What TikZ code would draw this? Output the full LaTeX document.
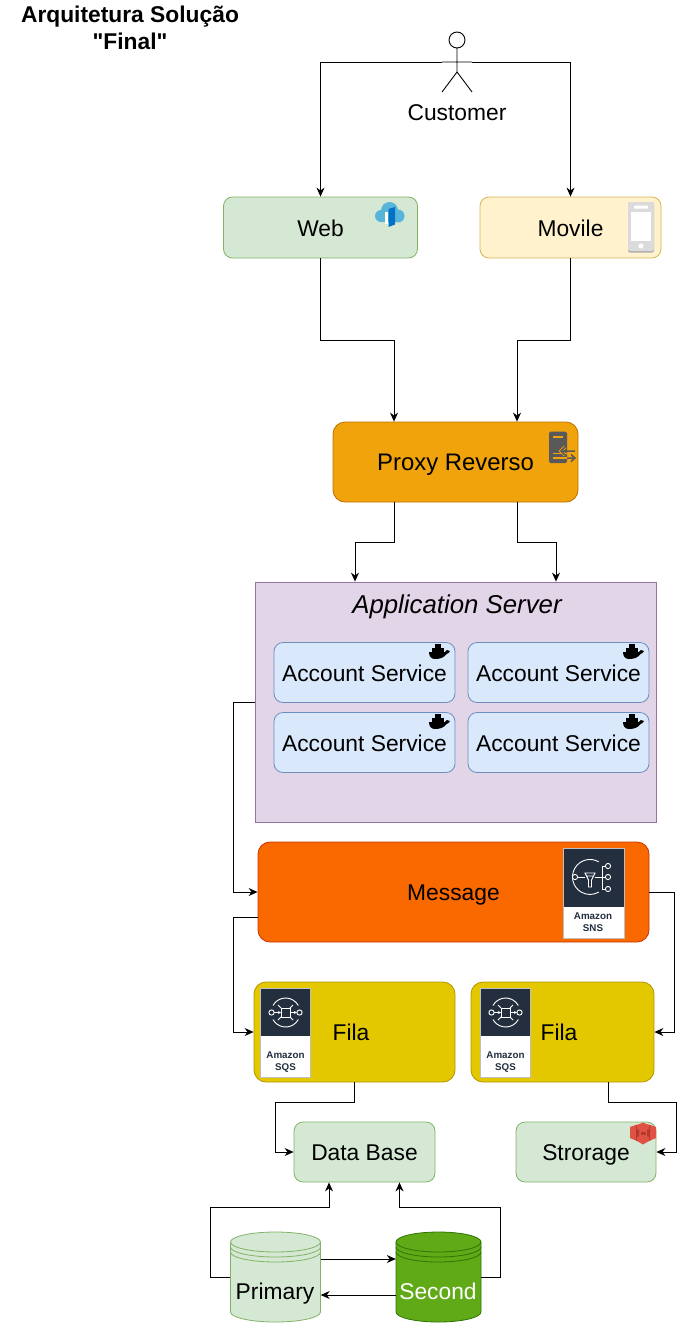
\documentclass[tikz,border=0pt]{standalone}
\usepackage{fontspec}
\setmainfont{Liberation Sans}
\newfontfamily\titlefont{Liberation Sans}
\usetikzlibrary{arrows.meta}
\definecolor{greenfill}{HTML}{D5E8D4}\definecolor{greenline}{HTML}{82B366}
\definecolor{yellowfill}{HTML}{FFF2CC}\definecolor{yellowline}{HTML}{D6B656}
\definecolor{proxyfill}{HTML}{F0A30A}\definecolor{proxyline}{HTML}{BD7000}
\definecolor{appfill}{HTML}{E1D5E7}\definecolor{appline}{HTML}{9673A6}
\definecolor{svcfill}{HTML}{DAE8FC}\definecolor{svcline}{HTML}{6C8EBF}
\definecolor{msgfill}{HTML}{FA6800}\definecolor{msgline}{HTML}{C73500}
\definecolor{filafill}{HTML}{E3C800}\definecolor{filaline}{HTML}{B09500}
\definecolor{secfill}{HTML}{60A917}\definecolor{secline}{HTML}{2D7600}
\definecolor{awsdark}{HTML}{232F3E}
\definecolor{cloudblue}{HTML}{59B4D9}\definecolor{doorblue}{HTML}{0072C6}
\definecolor{serverdark}{HTML}{595959}
\definecolor{sthreered}{HTML}{E05243}\definecolor{sthreedark}{HTML}{B5392C}
\tikzset{
  box/.style={draw,rounded corners=9pt,line width=.8pt,inner sep=0pt,text height=21.5pt,text depth=4.5pt,font=\fontsize{22.8}{27}\selectfont},
  bigbox/.style={box,rounded corners=12pt},
  lbl/.style={inner sep=0pt,text height=21.5pt,text depth=4.5pt,font=\fontsize{22.8}{27}\selectfont},
  conn/.style={draw,line width=.9pt,-{Stealth[length=9pt,width=8pt]}},
  awstext/.style={inner sep=0pt,align=center,text=awsdark,font=\fontsize{9.8}{12}\selectfont\bfseries}
}
% whale icon, (#1,#2) is its upper left corner
\newcommand{\dockericon}[2]{
\begin{scope}[shift={(#1,#2)}]
\fill (0,8) -- (16,8) .. controls (16.5,5.5) and (18.5,5.5) .. (21,7) .. controls (20,9) and (19,9.5) .. (17.5,10) .. controls (15,14) and (10,15) .. (6,15) .. controls (2,15) and (0,12) .. (0,8) -- cycle;
\foreach \i/\j in {3/4.2,6/4.2,9/4.2,12/4.2,6/.2,9/.2}
  \fill (\i,\j) rectangle ++(2.7,3.6);
\end{scope}}
% amazon icon, dark top and white caption part
\newcommand{\awsbox}[5]{
\fill[black!25] (#1-1,#2-1) rectangle (#3+1,#4+1);
\fill[white] (#1,#2) rectangle (#3,#4);
\fill[awsdark] (#1,#2) rectangle (#3,#5);}
% data store cylinder, top at 1232
\newcommand{\datastore}[4]{
\begin{scope}[shift={(#1,1232)},line width=.8pt]
\draw[fill=#3,draw=#4] (-#2,10) arc[x radius=#2,y radius=10,start angle=180,end angle=360] -- (#2,80) arc[x radius=#2,y radius=10,start angle=0,end angle=180] -- cycle;
\foreach \k in {10,15,20}
  \draw[draw=#4] (-#2,\k) arc[x radius=#2,y radius=10,start angle=180,end angle=0];
\end{scope}}
\begin{document}
\begin{tikzpicture}[x=1pt,y=-1pt]
\useasboundingbox (0,0) rectangle (685,1323);

\node[inner sep=0pt,align=center,font=\fontsize{22.8}{27}\titlefont\bfseries] (title) at (130,28) {Arquitetura Solução\\"Final"};

% customer
\draw[line width=.9pt] (457,40) circle(8pt) (457,48) -- (457,72) -- (442,92) (457,72) -- (472,92) (442,62) -- (472,62);
\coordinate (armleft) at (442,62);
\coordinate (armright) at (472,62);
\node[lbl] (customer) at (457,112) {Customer};

\node[box,fill=greenfill,draw=greenline,minimum width=194pt,minimum height=61pt] (web) at (320.5,227.5) {Web};
\node[box,fill=yellowfill,draw=yellowline,minimum width=181pt,minimum height=61pt] (movile) at (570.5,227.5) {Movile};
\node[bigbox,fill=proxyfill,draw=proxyline,minimum width=245pt,minimum height=80pt,font=\fontsize{23.9}{27}\selectfont] (proxy) at (455.5,462) {Proxy Reverso};

\node[draw=appline,fill=appfill,line width=.8pt,minimum width=401pt,minimum height=240pt] (app) at (455.5,702) {};
\node[lbl,font=\fontsize{25.8}{30}\selectfont\itshape] (apptitle) at (457,604.5) {Application Server};
\node[box,fill=svcfill,draw=svcline,minimum width=181pt,minimum height=60pt] (acc1) at (364.5,672.5) {Account Service};
\node[box,fill=svcfill,draw=svcline,minimum width=181pt,minimum height=60pt] (acc2) at (558.5,672.5) {Account Service};
\node[box,fill=svcfill,draw=svcline,minimum width=181pt,minimum height=60pt] (acc3) at (364.5,742.5) {Account Service};
\node[box,fill=svcfill,draw=svcline,minimum width=181pt,minimum height=60pt] (acc4) at (558.5,742.5) {Account Service};

\node[bigbox,fill=msgfill,draw=msgline,minimum width=391pt,minimum height=100pt] (message) at (453.5,892) {Message};
\node[bigbox,fill=filafill,draw=filaline,minimum width=201pt,minimum height=100pt] (fila1) at (354.5,1032) {};
\node[bigbox,fill=filafill,draw=filaline,minimum width=183pt,minimum height=100pt] (fila2) at (562.5,1032) {};
\node[lbl] (fila1label) at (351,1032) {Fila};
\node[lbl] (fila2label) at (559,1032) {Fila};

\node[box,fill=greenfill,draw=greenline,minimum width=141pt,minimum height=60pt] (database) at (364.5,1152) {Data Base};
\node[box,fill=greenfill,draw=greenline,minimum width=140pt,minimum height=60pt] (storage) at (586,1152) {Strorage};

\datastore{275.5}{45}{greenfill}{greenline}
\datastore{438.5}{42.5}{secfill}{secline}
\node[inner sep=0pt,minimum width=90pt,minimum height=90pt] (primary) at (275.5,1277) {};
\node[inner sep=0pt,minimum width=85pt,minimum height=90pt] (second) at (438.5,1277) {};
\node[lbl] (primarylabel) at (275,1291) {Primary};
\node[lbl,text=white] (secondlabel) at (438,1291) {Second};

% connectors
\draw[conn] (armleft) -| (web.north);
\draw[conn] (armright) -| (movile.north);
\draw[conn] (web.south) -- ++(0,82) -| ([xshift=-61.5pt]proxy.north);
\draw[conn] (movile.south) -- ++(0,82) -| ([xshift=61.5pt]proxy.north);
\draw[conn] ([xshift=-61.5pt]proxy.south) -- ++(0,40) -| ([xshift=-100.5pt]app.north);
\draw[conn] ([xshift=61.5pt]proxy.south) -- ++(0,40) -| ([xshift=100.5pt]app.north);
\draw[conn] (app.west) -- ++(-21,0) |- (message.west);
\draw[conn] ([yshift=-25pt]message.west) -- ++(-24,0) |- (fila1.west);
\draw[conn] (message.east) -- ++(25,0) |- (fila2.east);
\draw[conn] (fila1.south) -- ++(0,20) -- ++(-79.5,0) |- (database.west);
\draw[conn] ([xshift=45.5pt]fila2.south) -- ++(0,20) -- ++(68,0) |- (storage.east);
\draw[conn] (primary.west) -- ++(-19.5,0) -- ++(0,-70) -| ([xshift=-35.5pt]database.south);
\draw[conn] (second.east) -- ++(19.5,0) -- ++(0,-70) -| ([xshift=35pt]database.south);
\draw[conn] ([yshift=18pt]primary.east) -- ([yshift=18pt]second.west);
\draw[conn] ([yshift=-18pt]second.west) -- ([yshift=-18pt]primary.east);

% cloud icon of web
\fill[cloudblue] (381,216) circle(6pt) (389.5,210.5) circle(8.5pt) (398,216) circle(6.5pt) (381,214) rectangle (398,222);
\fill[white] (385,212) rectangle (388,223.5);
\fill[doorblue] (388.5,209) -- (395,207) -- (395,224.5) -- (388.5,227) -- cycle;

% phone icon of movile
\fill[black!32,rounded corners=2pt] (628,202) rectangle (654,252.5);
\fill[black!14,rounded corners=2pt] (628,202) rectangle (654,251);
\fill[white] (631,212) rectangle (651,241);
\fill[white,rounded corners=.5pt] (634,205.5) rectangle (648,208.5);
\fill[white] (641,246) circle(2.5pt);

% server icon of proxy
\fill[serverdark,rounded corners=1.5pt] (549,431.5) rectangle (567,463);
\fill[proxyfill] (553,435.5) rectangle (563,437.5);
\draw[proxyfill,line width=1.5pt] (553,453.5) -- (567,453.5) (553,458) -- (567,458);
\draw[proxyfill,line width=3.5pt] (565,447) -- (561,451) -- (565,455);
\draw[serverdark,line width=1.5pt] (561,451) -- (575,451) (565,447) -- (561,451) -- (565,455);
\draw[serverdark,line width=1.5pt] (567,458) -- (575,458) (571,454.5) -- (575,458) -- (571,461.5);

\dockericon{429}{644}
\dockericon{623}{644}
\dockericon{429}{714}
\dockericon{623}{714}

% sns icon
\awsbox{563.5}{848.5}{623.5}{937.5}{907}
\begin{scope}[shift={(590,877)},draw=white,line width=.9pt]
\draw (8.75,-15.2) arc[radius=17.5,start angle=-60,end angle=-300];
\draw (-15,0) -- (-5,0) (5,0) -- (15.5,0) (12,-11) -- (12,12) (12,-11) -- (16,-11) (12,12) -- (16,12);
\draw[fill=awsdark] (-15,0) circle(2.6pt) (18,-11) circle(2.6pt) (18,0) circle(2.6pt) (18,12) circle(2.6pt);
\draw[fill=awsdark] (-5,-4) -- (5,-4) -- (1.5,3) -- (1.5,10) -- (-1.5,10) -- (-1.5,3) -- cycle (-3.5,-1) -- (3.5,-1);
\end{scope}
\node[awstext] (snstext) at (593,922) {Amazon\\SNS};

% sqs icons
\foreach \qx/\qname in {285.5/a,505.5/b}{
\awsbox{\qx-24.5}{988.5}{\qx+24.5}{1077}{1036}
\begin{scope}[shift={(\qx,1012.5)},draw=white,line width=.9pt]
\draw (-12.5,-7) arc[radius=14.5,start angle=-151,end angle=-29];
\draw (-12.5,7) arc[radius=14.5,start angle=151,end angle=29];
\draw[fill=awsdark] (-14,0) circle(2.6pt) (14,0) circle(2.6pt);
\draw (-4.5,-4.5) rectangle (4.5,4.5);
\draw[-{Stealth[length=3pt,width=3pt]}] (-11.4,0) -- (-4.5,0);
\draw[-{Stealth[length=3pt,width=3pt]}] (4.5,0) -- (11.4,0);
\draw (-7.5,-7.5) -- (-4.5,-4.5) (7.5,-7.5) -- (4.5,-4.5) (-7.5,7.5) -- (-4.5,4.5) (7.5,7.5) -- (4.5,4.5);
\end{scope}
\node[awstext] (sqstext\qname) at (\qx,1062) {Amazon\\SQS};
}

% s3 icon
\fill[sthreered] (630,1127) -- (637,1124.5) -- (649,1124.5) -- (656,1127) -- (656,1138) -- (649,1141) -- (637,1141) -- (630,1138) -- cycle;
\fill[sthreedark] (636,1125) -- (639,1127) -- (639,1138.5) -- (636,1141) -- cycle;
\fill[sthreedark] (650,1125) -- (647,1127) -- (647,1138.5) -- (650,1141) -- cycle;
\fill[sthreered] (637,1125) -- (643,1122.5) -- (649,1125) -- (649,1129) -- (643,1131) -- (637,1129) -- cycle;
\fill[sthreered] (637,1137) -- (643,1135) -- (649,1137) -- (649,1141) -- (643,1144.5) -- (637,1141) -- cycle;
\fill[sthreedark] (640.5,1131.5) rectangle (645.5,1134.5);
\end{tikzpicture}
\end{document}
